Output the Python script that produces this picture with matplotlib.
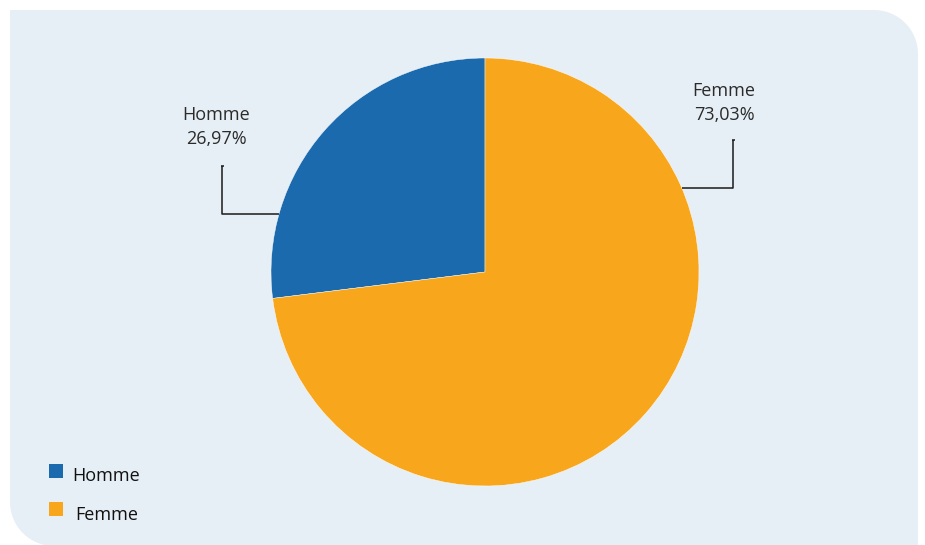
import numpy as np
import matplotlib.pyplot as plt
from matplotlib.path import Path
from matplotlib.patches import PathPatch, Rectangle

# Répartition par sexe
categories = ["Homme", "Femme"]
shares = [26.97, 73.03]
pct_labels = ["26,97%", "73,03%"]
colors = ["#1B6AAE", "#F8A61C"]

W, H = 925, 545
BG = "#E7EFF6"

plt.rcParams['font.family'] = ['Open Sans', 'DejaVu Sans']

fig = plt.figure(figsize=(W / 100, H / 100), dpi=100)
fig.patch.set_facecolor("white")
ax = fig.add_axes([0, 0, 1, 1])
ax.set_xlim(0, W)
ax.set_ylim(0, H)
ax.set_aspect("equal")
ax.axis("off")


def py(y):
    # pixel row (top origin) -> data y
    return H - y


# panel with rounded top-right and bottom-left corners
def corner(cx, cy, r, a0, a1, n=30):
    t = np.radians(np.linspace(a0, a1, n))
    return list(zip(cx + r * np.cos(t), cy + r * np.sin(t)))

left, right, top, bottom = 10, 918, py(10), py(546)
r = 44
verts = [(left, top)]
verts += corner(right - r, top - r, r, 90, 0)
verts += [(right, bottom)]
verts += corner(left + r, bottom + r, r, 270, 180)
verts += [(left, top)]
codes = [Path.MOVETO] + [Path.LINETO] * (len(verts) - 2) + [Path.CLOSEPOLY]
ax.add_patch(PathPatch(Path(verts, codes), facecolor=BG, edgecolor="none", zorder=0))

# pie
cx, cy, rad = 485, py(272), 214
wedges, _ = ax.pie(shares, colors=colors, startangle=90, counterclock=True,
                   center=(cx, cy), radius=rad, frame=True,
                   wedgeprops=dict(edgecolor="white", linewidth=0.3))
ax.set_xlim(0, W)
ax.set_ylim(0, H)
ax.axis("off")

# leader lines and labels
line_kw = dict(color="#1a1a1a", lw=1.1, solid_capstyle="butt", zorder=3)
leaders = [
    # (row of horizontal segment, x of vertical segment, top of vertical, side, text x, text baseline)
    (213.5, 222, 166, -1, 216, 120.5),
    (187.5, 733, 140, 1, 724, 96),
]
for (cat, pct, (hy, vx, vtop, side, tx, ty)) in zip(categories, pct_labels, leaders):
    dy = py(hy) - cy
    ex = cx + side * np.sqrt(rad ** 2 - dy ** 2)
    ax.plot([ex, vx, vx], [py(hy), py(hy), py(vtop)], **line_kw)
    ax.plot([vx - 1.5, vx + 1.5], [py(vtop), py(vtop)], **line_kw)
    ax.text(tx, py(ty), cat, ha="center", va="baseline", fontsize=13, color="#2b2b2b")
    ax.text(tx, py(ty + 23.5), pct, ha="center", va="baseline", fontsize=13, color="#2b2b2b")

# legend
legend_rows = [(464, 72.5, 481), (502, 75, 520)]
for cat, col, (sy, lx, by) in zip(categories, colors, legend_rows):
    ax.add_patch(Rectangle((49, py(sy + 14)), 14, 14, facecolor=col, edgecolor="none", zorder=3))
    ax.text(lx, py(by), cat, ha="left", va="baseline", fontsize=13, color="#111111")

fig.savefig("out.png", dpi=100, facecolor="white")
